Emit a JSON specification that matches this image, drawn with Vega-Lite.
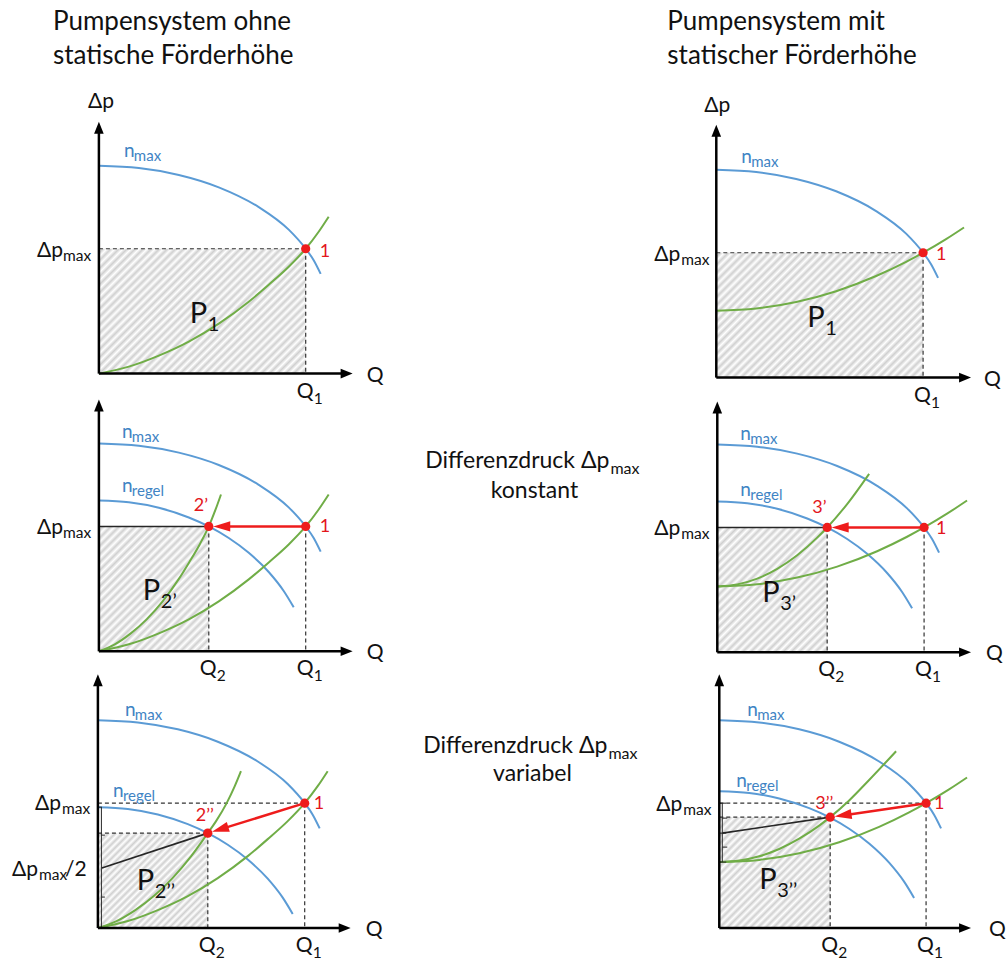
{
"$schema": "https://vega.github.io/schema/vega-lite/v6.json",
"width": 1006, "height": 962,
"autosize": {"type": "fit", "contains": "padding"},
"padding": 0,
"background": "white",
"config": {"view": {"stroke": null}, "font": "Lato"},
"datasets": {
"hatch": [
{"g":"A","x":99,"x2":306,"y":249,"y2":374},{"g":"A","x":717,"x2":924,"y":253,"y2":378},
{"g":"B","x":99,"x2":209,"y":527,"y2":652},{"g":"B","x":718,"x2":828,"y":528,"y2":653},
{"g":"C","x":98,"x2":208,"y":834,"y2":929},{"g":"D","x":720,"x2":831,"y":818,"y2":929}],
"curves": [
{"c":"1max","t":"pump","x":99,"y":166},{"c":"1max","t":"pump","x":139,"y":168.2},{"c":"1max","t":"pump","x":179,"y":175.1},{"c":"1max","t":"pump","x":219,"y":187.5},{"c":"1max","t":"pump","x":259,"y":207.3},{"c":"1max","t":"pump","x":289,"y":229.9},{"c":"1max","t":"pump","x":306,"y":249},{"c":"1max","t":"pump","x":314,"y":260.5},{"c":"1max","t":"pump","x":321,"y":274.2},
{"c":"2max","t":"pump","x":99,"y":444},{"c":"2max","t":"pump","x":139,"y":446.2},{"c":"2max","t":"pump","x":179,"y":453.1},{"c":"2max","t":"pump","x":219,"y":465.5},{"c":"2max","t":"pump","x":259,"y":485.3},{"c":"2max","t":"pump","x":289,"y":507.9},{"c":"2max","t":"pump","x":306,"y":527},{"c":"2max","t":"pump","x":314,"y":538.5},{"c":"2max","t":"pump","x":321,"y":552.2},
{"c":"3max","t":"pump","x":98,"y":721},{"c":"3max","t":"pump","x":138,"y":723.2},{"c":"3max","t":"pump","x":178,"y":730.1},{"c":"3max","t":"pump","x":218,"y":742.5},{"c":"3max","t":"pump","x":258,"y":762.3},{"c":"3max","t":"pump","x":288,"y":784.9},{"c":"3max","t":"pump","x":305,"y":804},{"c":"3max","t":"pump","x":313,"y":815.5},{"c":"3max","t":"pump","x":320,"y":829.2},
{"c":"4max","t":"pump","x":717,"y":170},{"c":"4max","t":"pump","x":757,"y":172.2},{"c":"4max","t":"pump","x":797,"y":179.1},{"c":"4max","t":"pump","x":837,"y":191.5},{"c":"4max","t":"pump","x":877,"y":211.3},{"c":"4max","t":"pump","x":907,"y":233.9},{"c":"4max","t":"pump","x":924,"y":253},{"c":"4max","t":"pump","x":932,"y":264.5},{"c":"4max","t":"pump","x":939,"y":278.2},
{"c":"5max","t":"pump","x":718,"y":445},{"c":"5max","t":"pump","x":758,"y":447.2},{"c":"5max","t":"pump","x":798,"y":454.1},{"c":"5max","t":"pump","x":838,"y":466.5},{"c":"5max","t":"pump","x":878,"y":486.3},{"c":"5max","t":"pump","x":908,"y":508.9},{"c":"5max","t":"pump","x":925,"y":528},{"c":"5max","t":"pump","x":933,"y":539.5},{"c":"5max","t":"pump","x":940,"y":553.2},
{"c":"6max","t":"pump","x":720,"y":721},{"c":"6max","t":"pump","x":760,"y":723.2},{"c":"6max","t":"pump","x":800,"y":730.1},{"c":"6max","t":"pump","x":840,"y":742.5},{"c":"6max","t":"pump","x":880,"y":762.3},{"c":"6max","t":"pump","x":910,"y":784.9},{"c":"6max","t":"pump","x":927,"y":804},{"c":"6max","t":"pump","x":935,"y":815.5},{"c":"6max","t":"pump","x":942,"y":829.2},
{"c":"2reg","t":"pump","x":99,"y":501},{"c":"2reg","t":"pump","x":129,"y":502.8},{"c":"2reg","t":"pump","x":159,"y":508.3},{"c":"2reg","t":"pump","x":189,"y":518},{"c":"2reg","t":"pump","x":209,"y":527},{"c":"2reg","t":"pump","x":229,"y":538.6},{"c":"2reg","t":"pump","x":249,"y":553.4},{"c":"2reg","t":"pump","x":269,"y":572.6},{"c":"2reg","t":"pump","x":284,"y":591.6},{"c":"2reg","t":"pump","x":294,"y":607.9},
{"c":"3reg","t":"pump","x":98,"y":808},{"c":"3reg","t":"pump","x":128,"y":809.8},{"c":"3reg","t":"pump","x":158,"y":815.3},{"c":"3reg","t":"pump","x":188,"y":825},{"c":"3reg","t":"pump","x":208,"y":834},{"c":"3reg","t":"pump","x":228,"y":845.6},{"c":"3reg","t":"pump","x":248,"y":860.4},{"c":"3reg","t":"pump","x":268,"y":879.6},{"c":"3reg","t":"pump","x":283,"y":898.6},{"c":"3reg","t":"pump","x":293,"y":914.9},
{"c":"5reg","t":"pump","x":718,"y":502},{"c":"5reg","t":"pump","x":748,"y":503.8},{"c":"5reg","t":"pump","x":778,"y":509.3},{"c":"5reg","t":"pump","x":808,"y":519},{"c":"5reg","t":"pump","x":828,"y":528},{"c":"5reg","t":"pump","x":848,"y":539.6},{"c":"5reg","t":"pump","x":868,"y":554.4},{"c":"5reg","t":"pump","x":888,"y":573.6},{"c":"5reg","t":"pump","x":903,"y":592.6},{"c":"5reg","t":"pump","x":913,"y":608.9},
{"c":"6reg","t":"pump","x":720,"y":792},{"c":"6reg","t":"pump","x":750,"y":793.8},{"c":"6reg","t":"pump","x":780,"y":799.3},{"c":"6reg","t":"pump","x":810,"y":809},{"c":"6reg","t":"pump","x":830,"y":818},{"c":"6reg","t":"pump","x":850,"y":829.6},{"c":"6reg","t":"pump","x":870,"y":844.4},{"c":"6reg","t":"pump","x":890,"y":863.6},{"c":"6reg","t":"pump","x":905,"y":882.6},{"c":"6reg","t":"pump","x":915,"y":898.9},
{"c":"1g1","t":"system","x":99,"y":374},{"c":"1g1","t":"system","x":129,"y":367},{"c":"1g1","t":"system","x":159,"y":356},{"c":"1g1","t":"system","x":189,"y":342},{"c":"1g1","t":"system","x":219,"y":324},{"c":"1g1","t":"system","x":249,"y":302},{"c":"1g1","t":"system","x":269,"y":285},{"c":"1g1","t":"system","x":289,"y":267},{"c":"1g1","t":"system","x":306,"y":249},{"c":"1g1","t":"system","x":319,"y":232},{"c":"1g1","t":"system","x":329,"y":217},
{"c":"2g1","t":"system","x":99,"y":652},{"c":"2g1","t":"system","x":129,"y":645},{"c":"2g1","t":"system","x":159,"y":634},{"c":"2g1","t":"system","x":189,"y":620},{"c":"2g1","t":"system","x":219,"y":602},{"c":"2g1","t":"system","x":249,"y":580},{"c":"2g1","t":"system","x":269,"y":563},{"c":"2g1","t":"system","x":289,"y":545},{"c":"2g1","t":"system","x":306,"y":527},{"c":"2g1","t":"system","x":319,"y":510},{"c":"2g1","t":"system","x":329,"y":495},
{"c":"3g1","t":"system","x":98,"y":929},{"c":"3g1","t":"system","x":128,"y":922},{"c":"3g1","t":"system","x":158,"y":911},{"c":"3g1","t":"system","x":188,"y":897},{"c":"3g1","t":"system","x":218,"y":879},{"c":"3g1","t":"system","x":248,"y":857},{"c":"3g1","t":"system","x":268,"y":840},{"c":"3g1","t":"system","x":288,"y":822},{"c":"3g1","t":"system","x":305,"y":804},{"c":"3g1","t":"system","x":318,"y":787},{"c":"3g1","t":"system","x":328,"y":772},
{"c":"2g2","t":"system","x":99,"y":652},{"c":"2g2","t":"system","x":114.9,"y":645},{"c":"2g2","t":"system","x":130.9,"y":634},{"c":"2g2","t":"system","x":146.8,"y":620},{"c":"2g2","t":"system","x":162.8,"y":602},{"c":"2g2","t":"system","x":178.7,"y":580},{"c":"2g2","t":"system","x":189.3,"y":563},{"c":"2g2","t":"system","x":199.9,"y":545},{"c":"2g2","t":"system","x":209,"y":527},{"c":"2g2","t":"system","x":215.8,"y":510},{"c":"2g2","t":"system","x":221.2,"y":495},
{"c":"3g2","t":"system","x":98,"y":929},{"c":"3g2","t":"system","x":116.7,"y":922},{"c":"3g2","t":"system","x":135.4,"y":911},{"c":"3g2","t":"system","x":154,"y":897},{"c":"3g2","t":"system","x":172.7,"y":879},{"c":"3g2","t":"system","x":191.4,"y":857},{"c":"3g2","t":"system","x":203.8,"y":840},{"c":"3g2","t":"system","x":208,"y":834},{"c":"3g2","t":"system","x":216.3,"y":822},{"c":"3g2","t":"system","x":226.9,"y":804},{"c":"3g2","t":"system","x":235,"y":787},{"c":"3g2","t":"system","x":241.2,"y":772},
{"c":"4g1","t":"system","x":717,"y":311},{"c":"4g1","t":"system","x":757,"y":308.8},{"c":"4g1","t":"system","x":797,"y":302.3},{"c":"4g1","t":"system","x":837,"y":291.5},{"c":"4g1","t":"system","x":877,"y":276.3},{"c":"4g1","t":"system","x":907,"y":262.1},{"c":"4g1","t":"system","x":924,"y":253},{"c":"4g1","t":"system","x":947,"y":239.4},{"c":"4g1","t":"system","x":965,"y":227.7},
{"c":"5g1","t":"system","x":718,"y":587},{"c":"5g1","t":"system","x":758,"y":584.8},{"c":"5g1","t":"system","x":798,"y":578.2},{"c":"5g1","t":"system","x":838,"y":567.2},{"c":"5g1","t":"system","x":878,"y":551.8},{"c":"5g1","t":"system","x":908,"y":537.3},{"c":"5g1","t":"system","x":925,"y":528},{"c":"5g1","t":"system","x":948,"y":514.2},{"c":"5g1","t":"system","x":968,"y":501},
{"c":"5g2","t":"system","x":718,"y":587},{"c":"5g2","t":"system","x":738,"y":585},{"c":"5g2","t":"system","x":758,"y":579.2},{"c":"5g2","t":"system","x":778,"y":569.4},{"c":"5g2","t":"system","x":798,"y":555.8},{"c":"5g2","t":"system","x":818,"y":538.2},{"c":"5g2","t":"system","x":828,"y":528},{"c":"5g2","t":"system","x":848,"y":504.6},{"c":"5g2","t":"system","x":870,"y":474.3},
{"c":"6g1","t":"system","x":720,"y":863},{"c":"6g1","t":"system","x":760,"y":860.8},{"c":"6g1","t":"system","x":800,"y":854.2},{"c":"6g1","t":"system","x":840,"y":843.2},{"c":"6g1","t":"system","x":880,"y":827.8},{"c":"6g1","t":"system","x":910,"y":813.3},{"c":"6g1","t":"system","x":927,"y":804},{"c":"6g1","t":"system","x":950,"y":790.2},{"c":"6g1","t":"system","x":968,"y":778.3},
{"c":"6g2","t":"system","x":720,"y":863},{"c":"6g2","t":"system","x":740,"y":861.5},{"c":"6g2","t":"system","x":760,"y":857.2},{"c":"6g2","t":"system","x":780,"y":849.9},{"c":"6g2","t":"system","x":800,"y":839.6},{"c":"6g2","t":"system","x":820,"y":826.5},{"c":"6g2","t":"system","x":831,"y":818},{"c":"6g2","t":"system","x":850,"y":801.3},{"c":"6g2","t":"system","x":870,"y":780.8},{"c":"6g2","t":"system","x":897,"y":752}],
"dashed": [
{"x":99,"y":249,"x2":306,"y2":249},{"x":306,"y":249,"x2":306,"y2":374},
{"x":209,"y":527,"x2":209,"y2":652},{"x":306,"y":527,"x2":306,"y2":652},
{"x":98,"y":804,"x2":305,"y2":804},{"x":98,"y":834,"x2":208,"y2":834},{"x":208,"y":834,"x2":208,"y2":929},{"x":305,"y":804,"x2":305,"y2":929},
{"x":717,"y":253,"x2":924,"y2":253},{"x":924,"y":253,"x2":924,"y2":378},
{"x":828,"y":528,"x2":828,"y2":653},{"x":925,"y":528,"x2":925,"y2":653},
{"x":720,"y":804,"x2":927,"y2":804},{"x":720,"y":818,"x2":831,"y2":818},{"x":831,"y":818,"x2":831,"y2":929},{"x":927,"y":804,"x2":927,"y2":929}],
"solid": [
{"x":99,"y":527,"x2":209,"y2":527},{"x":718,"y":528,"x2":828,"y2":528},
{"x":102,"y":869,"x2":208,"y2":834},{"x":723,"y":834,"x2":831,"y2":818}],
"bracket": [
{"x":101.5,"y":808,"x2":101.5,"y2":929},{"x":98,"y":808,"x2":102,"y2":808},{"x":101.5,"y":836,"x2":105,"y2":836},{"x":101.5,"y":898,"x2":105,"y2":898},
{"x":723,"y":804,"x2":723,"y2":863},{"x":720,"y":804,"x2":727,"y2":804},{"x":720,"y":834,"x2":727,"y2":834},{"x":720,"y":863,"x2":727,"y2":863},{"x":723,"y":819,"x2":728,"y2":819},{"x":723,"y":848,"x2":728,"y2":848}],
"axes": [
{"x":99,"y":374,"x2":99,"y2":128},{"x":99,"y":374,"x2":347,"y2":374},
{"x":99,"y":652,"x2":99,"y2":406},{"x":99,"y":652,"x2":347,"y2":652},
{"x":98,"y":929,"x2":98,"y2":681},{"x":98,"y":929,"x2":345,"y2":929},
{"x":717,"y":378,"x2":717,"y2":131},{"x":717,"y":378,"x2":966,"y2":378},
{"x":718,"y":653,"x2":718,"y2":408},{"x":718,"y":653,"x2":966,"y2":653},
{"x":720,"y":929,"x2":720,"y2":681},{"x":720,"y":929,"x2":966,"y2":929}],
"axisheads": [
{"x":99,"y":128,"ang":0},{"x":347,"y":374,"ang":90},
{"x":99,"y":406,"ang":0},{"x":347,"y":652,"ang":90},
{"x":98,"y":681,"ang":0},{"x":345,"y":929,"ang":90},
{"x":717,"y":131,"ang":0},{"x":966,"y":378,"ang":90},
{"x":718,"y":408,"ang":0},{"x":966,"y":653,"ang":90},
{"x":720,"y":681,"ang":0},{"x":966,"y":929,"ang":90}],
"redlines": [
{"x":306,"y":527,"x2":224,"y2":527},{"x":925,"y":528,"x2":843,"y2":528},
{"x":305,"y":804,"x2":221,"y2":830},{"x":927,"y":804,"x2":845,"y2":816}],
"redheads": [
{"x":222,"y":527,"ang":270},{"x":841,"y":528,"ang":270},
{"x":220.4,"y":830.2,"ang":252.8},{"x":843.9,"y":816.1,"ang":261.7}],
"dots": [
{"x":306,"y":249},{"x":306,"y":527},{"x":209,"y":527},{"x":305,"y":804},{"x":208,"y":834},
{"x":924,"y":253},{"x":925,"y":528},{"x":828,"y":528},{"x":927,"y":804},{"x":831,"y":818}],
"t_title": [
{"x":53,"y":30,"t":"Pumpensystem ohne"},{"x":53,"y":64,"t":"statische Förderhöhe"},
{"x":668,"y":30,"t":"Pumpensystem mit"},{"x":668,"y":64,"t":"statischer Förderhöhe"}],
"t_mid_r": [{"x":610,"y":468,"t":"Differenzdruck Δp"},{"x":608,"y":754,"t":"Differenzdruck Δp"}],
"t_mid_c": [{"x":535,"y":499,"t":"konstant"},{"x":533,"y":782,"t":"variabel"}],
"t_mid_sub": [{"x":611,"y":474,"t":"max"},{"x":609,"y":760,"t":"max"}],
"t_main": [
{"x":88,"y":108,"t":"Δp"},{"x":705,"y":112,"t":"Δp"},
{"x":367,"y":382,"t":"Q"},{"x":367,"y":660,"t":"Q"},{"x":366,"y":937,"t":"Q"},{"x":985,"y":386,"t":"Q"},{"x":987,"y":661,"t":"Q"},{"x":990,"y":937,"t":"Q"},
{"x":37,"y":257,"t":"Δp"},{"x":37,"y":535,"t":"Δp"},{"x":35,"y":811,"t":"Δp"},{"x":655,"y":261,"t":"Δp"},{"x":655,"y":536,"t":"Δp"},{"x":657,"y":812,"t":"Δp"},{"x":12,"y":877,"t":"Δp"},{"x":65,"y":877,"t":"/2"},
{"x":297,"y":398,"t":"Q"},{"x":200,"y":676,"t":"Q"},{"x":297,"y":676,"t":"Q"},{"x":199,"y":953,"t":"Q"},{"x":296,"y":953,"t":"Q"},{"x":915,"y":402,"t":"Q"},{"x":819,"y":677,"t":"Q"},{"x":916,"y":677,"t":"Q"},{"x":822,"y":953,"t":"Q"},{"x":918,"y":953,"t":"Q"}],
"t_sub": [
{"x":63,"y":261,"t":"max"},{"x":63,"y":539,"t":"max"},{"x":62,"y":815,"t":"max"},{"x":682,"y":265,"t":"max"},{"x":682,"y":540,"t":"max"},{"x":684,"y":816,"t":"max"},{"x":39,"y":881,"t":"max"},
{"x":314,"y":404,"t":"1"},{"x":217,"y":682,"t":"2"},{"x":314,"y":682,"t":"1"},{"x":216,"y":959,"t":"2"},{"x":313,"y":959,"t":"1"},{"x":932,"y":408,"t":"1"},{"x":836,"y":683,"t":"2"},{"x":933,"y":683,"t":"1"},{"x":839,"y":959,"t":"2"},{"x":935,"y":959,"t":"1"}],
"t_blue": [
{"x":124,"y":157,"t":"n"},{"x":122,"y":438,"t":"n"},{"x":122,"y":493,"t":"n"},{"x":125,"y":717,"t":"n"},{"x":113,"y":798,"t":"n"},
{"x":742,"y":163,"t":"n"},{"x":741,"y":440,"t":"n"},{"x":741,"y":497,"t":"n"},{"x":748,"y":717,"t":"n"},{"x":737,"y":788,"t":"n"}],
"t_blue_sub": [
{"x":134,"y":161,"t":"max"},{"x":132,"y":442,"t":"max"},{"x":132,"y":497,"t":"regel"},{"x":135,"y":721,"t":"max"},{"x":123,"y":802,"t":"regel"},
{"x":752,"y":167,"t":"max"},{"x":751,"y":444,"t":"max"},{"x":751,"y":501,"t":"regel"},{"x":758,"y":721,"t":"max"},{"x":747,"y":792,"t":"regel"}],
"t_red": [
{"x":320,"y":257,"t":"1"},{"x":320,"y":533,"t":"1"},{"x":314,"y":810,"t":"1"},{"x":937,"y":260,"t":"1"},{"x":937,"y":535,"t":"1"},{"x":935,"y":810,"t":"1"},
{"x":194,"y":512,"t":"2’"},{"x":196,"y":822,"t":"2’’"},{"x":813,"y":514,"t":"3’"},{"x":816,"y":810,"t":"3’’"}],
"t_P": [
{"x":190,"y":323,"t":"P"},{"x":143,"y":601,"t":"P"},{"x":137,"y":891,"t":"P"},{"x":808,"y":327,"t":"P"},{"x":763,"y":603,"t":"P"},{"x":760,"y":890,"t":"P"}],
"t_Psub": [
{"x":208,"y":331,"t":"1"},{"x":161,"y":609,"t":"2’"},{"x":155,"y":899,"t":"2’’"},{"x":826,"y":335,"t":"1"},{"x":781,"y":611,"t":"3’"},{"x":778,"y":898,"t":"3’’"}]
},
"encoding": {
"x": {"field":"x","type":"quantitative","scale":{"domain":[0,1006],"nice":false,"zero":false},"axis":null},
"y": {"field":"y","type":"quantitative","scale":{"domain":[0,962],"nice":false,"zero":false,"reverse":true},"axis":null}
},
"layer": [
{"data":{"name":"hatch"},"transform":[{"filter":"datum.g == 'A'"}],
 "mark":{"type":"rect","stroke":null,"fill":{"gradient":"linear","x1":0,"y1":0,"x2":1.1753,"y2":0.7097,"stops":[{"offset":0,"color":"#fff"},{"offset":0.0122,"color":"#d0d0d0"},{"offset":0.0244,"color":"#fff"},{"offset":0.0366,"color":"#d0d0d0"},{"offset":0.0488,"color":"#fff"},{"offset":0.061,"color":"#d0d0d0"},{"offset":0.0732,"color":"#fff"},{"offset":0.0854,"color":"#d0d0d0"},{"offset":0.0976,"color":"#fff"},{"offset":0.1098,"color":"#d0d0d0"},{"offset":0.122,"color":"#fff"},{"offset":0.1341,"color":"#d0d0d0"},{"offset":0.1463,"color":"#fff"},{"offset":0.1585,"color":"#d0d0d0"},{"offset":0.1707,"color":"#fff"},{"offset":0.1829,"color":"#d0d0d0"},{"offset":0.1951,"color":"#fff"},{"offset":0.2073,"color":"#d0d0d0"},{"offset":0.2195,"color":"#fff"},{"offset":0.2317,"color":"#d0d0d0"},{"offset":0.2439,"color":"#fff"},{"offset":0.2561,"color":"#d0d0d0"},{"offset":0.2683,"color":"#fff"},{"offset":0.2805,"color":"#d0d0d0"},{"offset":0.2927,"color":"#fff"},{"offset":0.3049,"color":"#d0d0d0"},{"offset":0.3171,"color":"#fff"},{"offset":0.3293,"color":"#d0d0d0"},{"offset":0.3415,"color":"#fff"},{"offset":0.3537,"color":"#d0d0d0"},{"offset":0.3659,"color":"#fff"},{"offset":0.378,"color":"#d0d0d0"},{"offset":0.3902,"color":"#fff"},{"offset":0.4024,"color":"#d0d0d0"},{"offset":0.4146,"color":"#fff"},{"offset":0.4268,"color":"#d0d0d0"},{"offset":0.439,"color":"#fff"},{"offset":0.4512,"color":"#d0d0d0"},{"offset":0.4634,"color":"#fff"},{"offset":0.4756,"color":"#d0d0d0"},{"offset":0.4878,"color":"#fff"},{"offset":0.5,"color":"#d0d0d0"},{"offset":0.5122,"color":"#fff"},{"offset":0.5244,"color":"#d0d0d0"},{"offset":0.5366,"color":"#fff"},{"offset":0.5488,"color":"#d0d0d0"},{"offset":0.561,"color":"#fff"},{"offset":0.5732,"color":"#d0d0d0"},{"offset":0.5854,"color":"#fff"},{"offset":0.5976,"color":"#d0d0d0"},{"offset":0.6098,"color":"#fff"},{"offset":0.622,"color":"#d0d0d0"},{"offset":0.6341,"color":"#fff"},{"offset":0.6463,"color":"#d0d0d0"},{"offset":0.6585,"color":"#fff"},{"offset":0.6707,"color":"#d0d0d0"},{"offset":0.6829,"color":"#fff"},{"offset":0.6951,"color":"#d0d0d0"},{"offset":0.7073,"color":"#fff"},{"offset":0.7195,"color":"#d0d0d0"},{"offset":0.7317,"color":"#fff"},{"offset":0.7439,"color":"#d0d0d0"},{"offset":0.7561,"color":"#fff"},{"offset":0.7683,"color":"#d0d0d0"},{"offset":0.7805,"color":"#fff"},{"offset":0.7927,"color":"#d0d0d0"},{"offset":0.8049,"color":"#fff"},{"offset":0.8171,"color":"#d0d0d0"},{"offset":0.8293,"color":"#fff"},{"offset":0.8415,"color":"#d0d0d0"},{"offset":0.8537,"color":"#fff"},{"offset":0.8659,"color":"#d0d0d0"},{"offset":0.878,"color":"#fff"},{"offset":0.8902,"color":"#d0d0d0"},{"offset":0.9024,"color":"#fff"},{"offset":0.9146,"color":"#d0d0d0"},{"offset":0.9268,"color":"#fff"},{"offset":0.939,"color":"#d0d0d0"},{"offset":0.9512,"color":"#fff"},{"offset":0.9634,"color":"#d0d0d0"},{"offset":0.9756,"color":"#fff"},{"offset":0.9878,"color":"#d0d0d0"},{"offset":1,"color":"#fff"}]}},
 "encoding":{"x2":{"field":"x2"},"y2":{"field":"y2"}}},
{"data":{"name":"hatch"},"transform":[{"filter":"datum.g == 'B'"}],
 "mark":{"type":"rect","stroke":null,"fill":{"gradient":"linear","x1":0,"y1":0,"x2":0.9324,"y2":1.0595,"stops":[{"offset":0,"color":"#fff"},{"offset":0.0172,"color":"#d0d0d0"},{"offset":0.0345,"color":"#fff"},{"offset":0.0517,"color":"#d0d0d0"},{"offset":0.069,"color":"#fff"},{"offset":0.0862,"color":"#d0d0d0"},{"offset":0.1034,"color":"#fff"},{"offset":0.1207,"color":"#d0d0d0"},{"offset":0.1379,"color":"#fff"},{"offset":0.1552,"color":"#d0d0d0"},{"offset":0.1724,"color":"#fff"},{"offset":0.1897,"color":"#d0d0d0"},{"offset":0.2069,"color":"#fff"},{"offset":0.2241,"color":"#d0d0d0"},{"offset":0.2414,"color":"#fff"},{"offset":0.2586,"color":"#d0d0d0"},{"offset":0.2759,"color":"#fff"},{"offset":0.2931,"color":"#d0d0d0"},{"offset":0.3103,"color":"#fff"},{"offset":0.3276,"color":"#d0d0d0"},{"offset":0.3448,"color":"#fff"},{"offset":0.3621,"color":"#d0d0d0"},{"offset":0.3793,"color":"#fff"},{"offset":0.3966,"color":"#d0d0d0"},{"offset":0.4138,"color":"#fff"},{"offset":0.431,"color":"#d0d0d0"},{"offset":0.4483,"color":"#fff"},{"offset":0.4655,"color":"#d0d0d0"},{"offset":0.4828,"color":"#fff"},{"offset":0.5,"color":"#d0d0d0"},{"offset":0.5172,"color":"#fff"},{"offset":0.5345,"color":"#d0d0d0"},{"offset":0.5517,"color":"#fff"},{"offset":0.569,"color":"#d0d0d0"},{"offset":0.5862,"color":"#fff"},{"offset":0.6034,"color":"#d0d0d0"},{"offset":0.6207,"color":"#fff"},{"offset":0.6379,"color":"#d0d0d0"},{"offset":0.6552,"color":"#fff"},{"offset":0.6724,"color":"#d0d0d0"},{"offset":0.6897,"color":"#fff"},{"offset":0.7069,"color":"#d0d0d0"},{"offset":0.7241,"color":"#fff"},{"offset":0.7414,"color":"#d0d0d0"},{"offset":0.7586,"color":"#fff"},{"offset":0.7759,"color":"#d0d0d0"},{"offset":0.7931,"color":"#fff"},{"offset":0.8103,"color":"#d0d0d0"},{"offset":0.8276,"color":"#fff"},{"offset":0.8448,"color":"#d0d0d0"},{"offset":0.8621,"color":"#fff"},{"offset":0.8793,"color":"#d0d0d0"},{"offset":0.8966,"color":"#fff"},{"offset":0.9138,"color":"#d0d0d0"},{"offset":0.931,"color":"#fff"},{"offset":0.9483,"color":"#d0d0d0"},{"offset":0.9655,"color":"#fff"},{"offset":0.9828,"color":"#d0d0d0"},{"offset":1,"color":"#fff"}]}},
 "encoding":{"x2":{"field":"x2"},"y2":{"field":"y2"}}},
{"data":{"name":"hatch"},"transform":[{"filter":"datum.g == 'C'"}],
 "mark":{"type":"rect","stroke":null,"fill":{"gradient":"linear","x1":0,"y1":0,"x2":1.0675,"y2":0.9219,"stops":[{"offset":0,"color":"#fff"},{"offset":0.0172,"color":"#d0d0d0"},{"offset":0.0345,"color":"#fff"},{"offset":0.0517,"color":"#d0d0d0"},{"offset":0.069,"color":"#fff"},{"offset":0.0862,"color":"#d0d0d0"},{"offset":0.1034,"color":"#fff"},{"offset":0.1207,"color":"#d0d0d0"},{"offset":0.1379,"color":"#fff"},{"offset":0.1552,"color":"#d0d0d0"},{"offset":0.1724,"color":"#fff"},{"offset":0.1897,"color":"#d0d0d0"},{"offset":0.2069,"color":"#fff"},{"offset":0.2241,"color":"#d0d0d0"},{"offset":0.2414,"color":"#fff"},{"offset":0.2586,"color":"#d0d0d0"},{"offset":0.2759,"color":"#fff"},{"offset":0.2931,"color":"#d0d0d0"},{"offset":0.3103,"color":"#fff"},{"offset":0.3276,"color":"#d0d0d0"},{"offset":0.3448,"color":"#fff"},{"offset":0.3621,"color":"#d0d0d0"},{"offset":0.3793,"color":"#fff"},{"offset":0.3966,"color":"#d0d0d0"},{"offset":0.4138,"color":"#fff"},{"offset":0.431,"color":"#d0d0d0"},{"offset":0.4483,"color":"#fff"},{"offset":0.4655,"color":"#d0d0d0"},{"offset":0.4828,"color":"#fff"},{"offset":0.5,"color":"#d0d0d0"},{"offset":0.5172,"color":"#fff"},{"offset":0.5345,"color":"#d0d0d0"},{"offset":0.5517,"color":"#fff"},{"offset":0.569,"color":"#d0d0d0"},{"offset":0.5862,"color":"#fff"},{"offset":0.6034,"color":"#d0d0d0"},{"offset":0.6207,"color":"#fff"},{"offset":0.6379,"color":"#d0d0d0"},{"offset":0.6552,"color":"#fff"},{"offset":0.6724,"color":"#d0d0d0"},{"offset":0.6897,"color":"#fff"},{"offset":0.7069,"color":"#d0d0d0"},{"offset":0.7241,"color":"#fff"},{"offset":0.7414,"color":"#d0d0d0"},{"offset":0.7586,"color":"#fff"},{"offset":0.7759,"color":"#d0d0d0"},{"offset":0.7931,"color":"#fff"},{"offset":0.8103,"color":"#d0d0d0"},{"offset":0.8276,"color":"#fff"},{"offset":0.8448,"color":"#d0d0d0"},{"offset":0.8621,"color":"#fff"},{"offset":0.8793,"color":"#d0d0d0"},{"offset":0.8966,"color":"#fff"},{"offset":0.9138,"color":"#d0d0d0"},{"offset":0.931,"color":"#fff"},{"offset":0.9483,"color":"#d0d0d0"},{"offset":0.9655,"color":"#fff"},{"offset":0.9828,"color":"#d0d0d0"},{"offset":1,"color":"#fff"}]}},
 "encoding":{"x2":{"field":"x2"},"y2":{"field":"y2"}}},
{"data":{"name":"hatch"},"transform":[{"filter":"datum.g == 'D'"}],
 "mark":{"type":"rect","stroke":null,"fill":{"gradient":"linear","x1":0,"y1":0,"x2":1,"y2":1,"stops":[{"offset":0,"color":"#fff"},{"offset":0.0172,"color":"#d0d0d0"},{"offset":0.0345,"color":"#fff"},{"offset":0.0517,"color":"#d0d0d0"},{"offset":0.069,"color":"#fff"},{"offset":0.0862,"color":"#d0d0d0"},{"offset":0.1034,"color":"#fff"},{"offset":0.1207,"color":"#d0d0d0"},{"offset":0.1379,"color":"#fff"},{"offset":0.1552,"color":"#d0d0d0"},{"offset":0.1724,"color":"#fff"},{"offset":0.1897,"color":"#d0d0d0"},{"offset":0.2069,"color":"#fff"},{"offset":0.2241,"color":"#d0d0d0"},{"offset":0.2414,"color":"#fff"},{"offset":0.2586,"color":"#d0d0d0"},{"offset":0.2759,"color":"#fff"},{"offset":0.2931,"color":"#d0d0d0"},{"offset":0.3103,"color":"#fff"},{"offset":0.3276,"color":"#d0d0d0"},{"offset":0.3448,"color":"#fff"},{"offset":0.3621,"color":"#d0d0d0"},{"offset":0.3793,"color":"#fff"},{"offset":0.3966,"color":"#d0d0d0"},{"offset":0.4138,"color":"#fff"},{"offset":0.431,"color":"#d0d0d0"},{"offset":0.4483,"color":"#fff"},{"offset":0.4655,"color":"#d0d0d0"},{"offset":0.4828,"color":"#fff"},{"offset":0.5,"color":"#d0d0d0"},{"offset":0.5172,"color":"#fff"},{"offset":0.5345,"color":"#d0d0d0"},{"offset":0.5517,"color":"#fff"},{"offset":0.569,"color":"#d0d0d0"},{"offset":0.5862,"color":"#fff"},{"offset":0.6034,"color":"#d0d0d0"},{"offset":0.6207,"color":"#fff"},{"offset":0.6379,"color":"#d0d0d0"},{"offset":0.6552,"color":"#fff"},{"offset":0.6724,"color":"#d0d0d0"},{"offset":0.6897,"color":"#fff"},{"offset":0.7069,"color":"#d0d0d0"},{"offset":0.7241,"color":"#fff"},{"offset":0.7414,"color":"#d0d0d0"},{"offset":0.7586,"color":"#fff"},{"offset":0.7759,"color":"#d0d0d0"},{"offset":0.7931,"color":"#fff"},{"offset":0.8103,"color":"#d0d0d0"},{"offset":0.8276,"color":"#fff"},{"offset":0.8448,"color":"#d0d0d0"},{"offset":0.8621,"color":"#fff"},{"offset":0.8793,"color":"#d0d0d0"},{"offset":0.8966,"color":"#fff"},{"offset":0.9138,"color":"#d0d0d0"},{"offset":0.931,"color":"#fff"},{"offset":0.9483,"color":"#d0d0d0"},{"offset":0.9655,"color":"#fff"},{"offset":0.9828,"color":"#d0d0d0"},{"offset":1,"color":"#fff"}]}},
 "encoding":{"x2":{"field":"x2"},"y2":{"field":"y2"}}},
{"data":{"name":"dashed"},"mark":{"type":"rule","color":"#333333","strokeWidth":1.2,"strokeDash":[4,3]},
 "encoding":{"x2":{"field":"x2"},"y2":{"field":"y2"}}},
{"data":{"name":"curves"},"mark":{"type":"line","interpolate":"monotone","strokeWidth":2},
 "encoding":{"detail":{"field":"c"},"color":{"field":"t","type":"nominal","scale":{"domain":["pump","system"],"range":["#5b9bd5","#70ad47"]},"legend":null}}},
{"data":{"name":"solid"},"mark":{"type":"rule","color":"#262626","strokeWidth":1.6},
 "encoding":{"x2":{"field":"x2"},"y2":{"field":"y2"}}},
{"data":{"name":"bracket"},"mark":{"type":"rule","color":"#262626","strokeWidth":1},
 "encoding":{"x2":{"field":"x2"},"y2":{"field":"y2"}}},
{"data":{"name":"axes"},"mark":{"type":"rule","color":"#000000","strokeWidth":2.5},
 "encoding":{"x2":{"field":"x2"},"y2":{"field":"y2"}}},
{"data":{"name":"axisheads"},"mark":{"type":"point","shape":"M0,-1L0.8,1L-0.8,1Z","filled":true,"color":"#000000","opacity":1,"size":144,"strokeWidth":0},
 "encoding":{"angle":{"field":"ang","type":"quantitative","scale":null}}},
{"data":{"name":"redlines"},"mark":{"type":"rule","color":"#ee1c1c","strokeWidth":2.5},
 "encoding":{"x2":{"field":"x2"},"y2":{"field":"y2"}}},
{"data":{"name":"redheads"},"mark":{"type":"point","shape":"M0,-1L0.6,1L-0.6,1Z","filled":true,"color":"#ee1c1c","opacity":1,"size":289,"strokeWidth":0},
 "encoding":{"angle":{"field":"ang","type":"quantitative","scale":null}}},
{"data":{"name":"dots"},"mark":{"type":"point","shape":"circle","filled":true,"color":"#ee1c1c","opacity":1,"size":85,"strokeWidth":0}},
{"data":{"name":"t_title"},"mark":{"type":"text","align":"left","baseline":"alphabetic","fontSize":26,"color":"#111111"},"encoding":{"text":{"field":"t"}}},
{"data":{"name":"t_mid_r"},"mark":{"type":"text","align":"right","baseline":"alphabetic","fontSize":23,"color":"#111111"},"encoding":{"text":{"field":"t"}}},
{"data":{"name":"t_mid_c"},"mark":{"type":"text","align":"center","baseline":"alphabetic","fontSize":23,"color":"#111111"},"encoding":{"text":{"field":"t"}}},
{"data":{"name":"t_mid_sub"},"mark":{"type":"text","align":"left","baseline":"alphabetic","fontSize":16,"color":"#111111"},"encoding":{"text":{"field":"t"}}},
{"data":{"name":"t_main"},"mark":{"type":"text","align":"left","baseline":"alphabetic","fontSize":21,"color":"#111111"},"encoding":{"text":{"field":"t"}}},
{"data":{"name":"t_sub"},"mark":{"type":"text","align":"left","baseline":"alphabetic","fontSize":15.5,"color":"#111111"},"encoding":{"text":{"field":"t"}}},
{"data":{"name":"t_blue"},"mark":{"type":"text","align":"left","baseline":"alphabetic","fontSize":19,"color":"#3f84c4"},"encoding":{"text":{"field":"t"}}},
{"data":{"name":"t_blue_sub"},"mark":{"type":"text","align":"left","baseline":"alphabetic","fontSize":15,"color":"#3f84c4"},"encoding":{"text":{"field":"t"}}},
{"data":{"name":"t_red"},"mark":{"type":"text","align":"left","baseline":"alphabetic","fontSize":18,"color":"#e3161c"},"encoding":{"text":{"field":"t"}}},
{"data":{"name":"t_P"},"mark":{"type":"text","align":"left","baseline":"alphabetic","fontSize":29,"color":"#111111"},"encoding":{"text":{"field":"t"}}},
{"data":{"name":"t_Psub"},"mark":{"type":"text","align":"left","baseline":"alphabetic","fontSize":20,"color":"#111111"},"encoding":{"text":{"field":"t"}}}
]
}
